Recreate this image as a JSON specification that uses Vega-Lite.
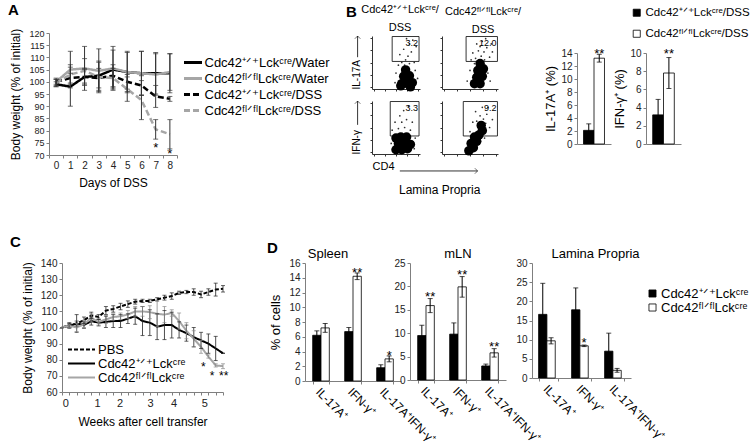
{
"$schema":"https://vega.github.io/schema/vega-lite/v6.json",
"padding":{"left":8,"top":3,"right":0,"bottom":0},
"background":"white",
"config":{"font":"Liberation Sans","view":{"stroke":null},
"axis":{"grid":false,"labelFont":"Liberation Sans","titleFont":"Liberation Sans","labelFontSize":10,"titleFontSize":12,"titleFontWeight":"normal","labelColor":"#222","titleColor":"#000","domainColor":"#7f7f7f","tickColor":"#7f7f7f","tickSize":3,"labelPadding":2,"labelOverlap":false},
"legend":{"labelFont":"Liberation Sans","labelFontSize":13,"labelColor":"#000","padding":0},
"title":{"font":"Liberation Sans","fontWeight":"normal","fontSize":13,"color":"#000"}},
"datasets":{
"a":[
{"day":0,"s":"Cdc42⁺ᐟ⁺Lckᶜʳᵉ/Water","m":99,"lo":98,"hi":100},
{"day":1,"s":"Cdc42⁺ᐟ⁺Lckᶜʳᵉ/Water","m":98,"lo":90,"hi":106},
{"day":2,"s":"Cdc42⁺ᐟ⁺Lckᶜʳᵉ/Water","m":102,"lo":98.5,"hi":105.5},
{"day":3,"s":"Cdc42⁺ᐟ⁺Lckᶜʳᵉ/Water","m":102.5,"lo":96.5,"hi":108.5},
{"day":4,"s":"Cdc42⁺ᐟ⁺Lckᶜʳᵉ/Water","m":105,"lo":97,"hi":113},
{"day":5,"s":"Cdc42⁺ᐟ⁺Lckᶜʳᵉ/Water","m":104,"lo":96,"hi":112},
{"day":6,"s":"Cdc42⁺ᐟ⁺Lckᶜʳᵉ/Water","m":103.5,"lo":94.5,"hi":112.5},
{"day":7,"s":"Cdc42⁺ᐟ⁺Lckᶜʳᵉ/Water","m":103.5,"lo":95,"hi":112},
{"day":8,"s":"Cdc42⁺ᐟ⁺Lckᶜʳᵉ/Water","m":103.5,"lo":95.5,"hi":111.5},
{"day":0,"s":"Cdc42ᶠˡᐟᶠˡLckᶜʳᵉ/Water","m":100,"lo":99,"hi":101},
{"day":1,"s":"Cdc42ᶠˡᐟᶠˡLckᶜʳᵉ/Water","m":105,"lo":97.5,"hi":112.5},
{"day":2,"s":"Cdc42ᶠˡᐟᶠˡLckᶜʳᵉ/Water","m":105.5,"lo":96.5,"hi":114.5},
{"day":3,"s":"Cdc42ᶠˡᐟᶠˡLckᶜʳᵉ/Water","m":104.5,"lo":95.5,"hi":113.5},
{"day":4,"s":"Cdc42ᶠˡᐟᶠˡLckᶜʳᵉ/Water","m":105.5,"lo":96.5,"hi":114.5},
{"day":5,"s":"Cdc42ᶠˡᐟᶠˡLckᶜʳᵉ/Water","m":104,"lo":95.5,"hi":112.5},
{"day":6,"s":"Cdc42ᶠˡᐟᶠˡLckᶜʳᵉ/Water","m":103.5,"lo":94.5,"hi":112.5},
{"day":7,"s":"Cdc42ᶠˡᐟᶠˡLckᶜʳᵉ/Water","m":103,"lo":94.5,"hi":111.5},
{"day":8,"s":"Cdc42ᶠˡᐟᶠˡLckᶜʳᵉ/Water","m":104,"lo":96.5,"hi":111.5},
{"day":0,"s":"Cdc42⁺ᐟ⁺Lckᶜʳᵉ/DSS","m":100,"lo":98.5,"hi":101.5},
{"day":1,"s":"Cdc42⁺ᐟ⁺Lckᶜʳᵉ/DSS","m":101.5,"lo":99.5,"hi":103.5},
{"day":2,"s":"Cdc42⁺ᐟ⁺Lckᶜʳᵉ/DSS","m":102,"lo":99,"hi":105},
{"day":3,"s":"Cdc42⁺ᐟ⁺Lckᶜʳᵉ/DSS","m":101.5,"lo":97.5,"hi":105.5},
{"day":4,"s":"Cdc42⁺ᐟ⁺Lckᶜʳᵉ/DSS","m":102.5,"lo":98,"hi":107},
{"day":5,"s":"Cdc42⁺ᐟ⁺Lckᶜʳᵉ/DSS","m":100,"lo":97,"hi":103},
{"day":6,"s":"Cdc42⁺ᐟ⁺Lckᶜʳᵉ/DSS","m":98.5,"lo":94.5,"hi":102.5},
{"day":7,"s":"Cdc42⁺ᐟ⁺Lckᶜʳᵉ/DSS","m":94,"lo":89.5,"hi":98.5},
{"day":8,"s":"Cdc42⁺ᐟ⁺Lckᶜʳᵉ/DSS","m":93,"lo":92,"hi":94},
{"day":0,"s":"Cdc42ᶠˡᐟᶠˡLckᶜʳᵉ/DSS","m":99.5,"lo":98,"hi":101},
{"day":1,"s":"Cdc42ᶠˡᐟᶠˡLckᶜʳᵉ/DSS","m":103,"lo":99,"hi":107},
{"day":2,"s":"Cdc42ᶠˡᐟᶠˡLckᶜʳᵉ/DSS","m":104.5,"lo":99.5,"hi":109.5},
{"day":3,"s":"Cdc42ᶠˡᐟᶠˡLckᶜʳᵉ/DSS","m":102,"lo":96,"hi":108},
{"day":4,"s":"Cdc42ᶠˡᐟᶠˡLckᶜʳᵉ/DSS","m":101.5,"lo":97.5,"hi":105.5},
{"day":5,"s":"Cdc42ᶠˡᐟᶠˡLckᶜʳᵉ/DSS","m":97,"lo":92,"hi":102},
{"day":6,"s":"Cdc42ᶠˡᐟᶠˡLckᶜʳᵉ/DSS","m":92.5,"lo":84.5,"hi":100.5},
{"day":7,"s":"Cdc42ᶠˡᐟᶠˡLckᶜʳᵉ/DSS","m":80.5,"lo":76.5,"hi":84.5},
{"day":8,"s":"Cdc42ᶠˡᐟᶠˡLckᶜʳᵉ/DSS","m":78.5,"lo":72.5,"hi":84.5}],
"astar":[{"day":7,"m":74,"t":"*"},{"day":8,"m":71.5,"t":"*"}],
"c":[
{"i":0,"s":"PBS","m":100,"lo":100,"hi":100},{"i":1,"s":"PBS","m":101.5,"lo":100,"hi":103},{"i":2,"s":"PBS","m":102.5,"lo":101,"hi":104},{"i":3,"s":"PBS","m":104.5,"lo":102.5,"hi":106.5},{"i":4,"s":"PBS","m":107.5,"lo":105.5,"hi":109.5},{"i":5,"s":"PBS","m":106.5,"lo":105,"hi":108},{"i":6,"s":"PBS","m":110.5,"lo":108,"hi":113},{"i":7,"s":"PBS","m":111.5,"lo":109.5,"hi":113.5},{"i":8,"s":"PBS","m":113,"lo":111,"hi":115},{"i":9,"s":"PBS","m":114.5,"lo":112.5,"hi":116.5},{"i":10,"s":"PBS","m":116,"lo":114.5,"hi":117.5},{"i":11,"s":"PBS","m":116.5,"lo":115.5,"hi":117.5},{"i":12,"s":"PBS","m":116.5,"lo":115.5,"hi":117.5},{"i":13,"s":"PBS","m":117.5,"lo":116.5,"hi":118.5},{"i":14,"s":"PBS","m":118.5,"lo":117,"hi":120},{"i":15,"s":"PBS","m":119.5,"lo":117.5,"hi":121.5},{"i":16,"s":"PBS","m":121.5,"lo":120.5,"hi":122.5},{"i":17,"s":"PBS","m":122,"lo":121,"hi":123},{"i":18,"s":"PBS","m":122,"lo":120,"hi":124},{"i":19,"s":"PBS","m":120.5,"lo":118.5,"hi":122.5},{"i":20,"s":"PBS","m":122,"lo":120,"hi":124},{"i":21,"s":"PBS","m":123.5,"lo":119.5,"hi":127.5},{"i":22,"s":"PBS","m":124,"lo":122,"hi":126},
{"i":0,"s":"Cdc42⁺ᐟ⁺Lckᶜʳᵉ","m":100,"lo":100,"hi":100},{"i":1,"s":"Cdc42⁺ᐟ⁺Lckᶜʳᵉ","m":101,"lo":99.5,"hi":102.5},{"i":2,"s":"Cdc42⁺ᐟ⁺Lckᶜʳᵉ","m":102.5,"lo":97,"hi":108},{"i":3,"s":"Cdc42⁺ᐟ⁺Lckᶜʳᵉ","m":101.5,"lo":99.5,"hi":103.5},{"i":4,"s":"Cdc42⁺ᐟ⁺Lckᶜʳᵉ","m":104,"lo":101.5,"hi":106.5},{"i":5,"s":"Cdc42⁺ᐟ⁺Lckᶜʳᵉ","m":103,"lo":101,"hi":105},{"i":6,"s":"Cdc42⁺ᐟ⁺Lckᶜʳᵉ","m":103.5,"lo":100,"hi":107},{"i":7,"s":"Cdc42⁺ᐟ⁺Lckᶜʳᵉ","m":104,"lo":100,"hi":108},{"i":8,"s":"Cdc42⁺ᐟ⁺Lckᶜʳᵉ","m":104,"lo":100,"hi":108},{"i":9,"s":"Cdc42⁺ᐟ⁺Lckᶜʳᵉ","m":105.5,"lo":102.5,"hi":108.5},{"i":10,"s":"Cdc42⁺ᐟ⁺Lckᶜʳᵉ","m":107,"lo":102,"hi":112},{"i":11,"s":"Cdc42⁺ᐟ⁺Lckᶜʳᵉ","m":104,"lo":95,"hi":113},{"i":12,"s":"Cdc42⁺ᐟ⁺Lckᶜʳᵉ","m":103,"lo":95,"hi":111},{"i":13,"s":"Cdc42⁺ᐟ⁺Lckᶜʳᵉ","m":100.5,"lo":92.5,"hi":108.5},{"i":14,"s":"Cdc42⁺ᐟ⁺Lckᶜʳᵉ","m":101.5,"lo":92.5,"hi":110.5},{"i":15,"s":"Cdc42⁺ᐟ⁺Lckᶜʳᵉ","m":101.5,"lo":93.5,"hi":109.5},{"i":16,"s":"Cdc42⁺ᐟ⁺Lckᶜʳᵉ","m":98.5,"lo":93.5,"hi":103.5},{"i":17,"s":"Cdc42⁺ᐟ⁺Lckᶜʳᵉ","m":96.5,"lo":91.5,"hi":101.5},{"i":18,"s":"Cdc42⁺ᐟ⁺Lckᶜʳᵉ","m":94,"lo":88,"hi":100},{"i":19,"s":"Cdc42⁺ᐟ⁺Lckᶜʳᵉ","m":92,"lo":87,"hi":97},{"i":20,"s":"Cdc42⁺ᐟ⁺Lckᶜʳᵉ","m":90,"lo":84,"hi":96},{"i":21,"s":"Cdc42⁺ᐟ⁺Lckᶜʳᵉ","m":87,"lo":79.5,"hi":94.5},{"i":22,"s":"Cdc42⁺ᐟ⁺Lckᶜʳᵉ","m":84,"lo":84,"hi":84},
{"i":0,"s":"Cdc42ᶠˡᐟᶠˡLckᶜʳᵉ","m":100,"lo":100,"hi":100},{"i":1,"s":"Cdc42ᶠˡᐟᶠˡLckᶜʳᵉ","m":101,"lo":100,"hi":102},{"i":2,"s":"Cdc42ᶠˡᐟᶠˡLckᶜʳᵉ","m":100,"lo":97.5,"hi":102.5},{"i":3,"s":"Cdc42ᶠˡᐟᶠˡLckᶜʳᵉ","m":102,"lo":100,"hi":104},{"i":4,"s":"Cdc42ᶠˡᐟᶠˡLckᶜʳᵉ","m":106,"lo":103.5,"hi":108.5},{"i":5,"s":"Cdc42ᶠˡᐟᶠˡLckᶜʳᵉ","m":103.5,"lo":101.5,"hi":105.5},{"i":6,"s":"Cdc42ᶠˡᐟᶠˡLckᶜʳᵉ","m":105,"lo":102.5,"hi":107.5},{"i":7,"s":"Cdc42ᶠˡᐟᶠˡLckᶜʳᵉ","m":106.5,"lo":104.5,"hi":108.5},{"i":8,"s":"Cdc42ᶠˡᐟᶠˡLckᶜʳᵉ","m":107,"lo":105,"hi":109},{"i":9,"s":"Cdc42ᶠˡᐟᶠˡLckᶜʳᵉ","m":108,"lo":105.5,"hi":110.5},{"i":10,"s":"Cdc42ᶠˡᐟᶠˡLckᶜʳᵉ","m":110,"lo":107,"hi":113},{"i":11,"s":"Cdc42ᶠˡᐟᶠˡLckᶜʳᵉ","m":110,"lo":107,"hi":113},{"i":12,"s":"Cdc42ᶠˡᐟᶠˡLckᶜʳᵉ","m":109.5,"lo":105.5,"hi":113.5},{"i":13,"s":"Cdc42ᶠˡᐟᶠˡLckᶜʳᵉ","m":108.5,"lo":100.5,"hi":116.5},{"i":14,"s":"Cdc42ᶠˡᐟᶠˡLckᶜʳᵉ","m":108,"lo":103,"hi":113},{"i":15,"s":"Cdc42ᶠˡᐟᶠˡLckᶜʳᵉ","m":109,"lo":107,"hi":111},{"i":16,"s":"Cdc42ᶠˡᐟᶠˡLckᶜʳᵉ","m":104,"lo":99,"hi":109},{"i":17,"s":"Cdc42ᶠˡᐟᶠˡLckᶜʳᵉ","m":98,"lo":93,"hi":103},{"i":18,"s":"Cdc42ᶠˡᐟᶠˡLckᶜʳᵉ","m":93,"lo":88,"hi":98},{"i":19,"s":"Cdc42ᶠˡᐟᶠˡLckᶜʳᵉ","m":88,"lo":84,"hi":92},{"i":20,"s":"Cdc42ᶠˡᐟᶠˡLckᶜʳᵉ","m":82,"lo":81,"hi":83},{"i":21,"s":"Cdc42ᶠˡᐟᶠˡLckᶜʳᵉ","m":76.5,"lo":75.5,"hi":77.5},{"i":22,"s":"Cdc42ᶠˡᐟᶠˡLckᶜʳᵉ","m":76,"lo":74.5,"hi":77.5}],
"cstar":[{"i":19.3,"m":77.5,"t":"*"},{"i":20.5,"m":72,"t":"*"},{"i":22.1,"m":72,"t":"**"}],
"f1":[{"x":0.62,"y":0.1,"k":"c"},{"x":0.74,"y":0.1,"k":"c"},{"x":0.84,"y":0.12,"k":"c"},{"x":0.66,"y":0.24,"k":"c"},{"x":0.78,"y":0.25,"k":"c"},{"x":0.7,"y":0.36,"k":"c"},{"x":0.6,"y":0.06,"k":"c"},{"x":0.8,"y":0.04,"k":"c"},
{"x":0.5,"y":0.3,"k":"d"},{"x":0.55,"y":0.45,"k":"d"},{"x":0.62,"y":0.5,"k":"d"},{"x":0.9,"y":0.35,"k":"d"},{"x":0.88,"y":0.5,"k":"d"},{"x":0.7,"y":0.55,"k":"d"},{"x":0.75,"y":0.62,"k":"d"},{"x":0.82,"y":0.7,"k":"d"},{"x":0.66,"y":0.75,"k":"d"},{"x":0.78,"y":0.85,"k":"d"},{"x":0.72,"y":0.95,"k":"d"},{"x":0.92,"y":0.8,"k":"d"},{"x":0.48,"y":0.12,"k":"d"},{"x":0.95,"y":0.2,"k":"d"},{"x":0.58,"y":0.65,"k":"d"},{"x":0.85,"y":0.92,"k":"d"},{"x":0.68,"y":0.45,"k":"d"},{"x":0.78,"y":0.48,"k":"d"}],
"f2":[{"x":0.58,"y":0.1,"k":"c"},{"x":0.68,"y":0.1,"k":"c"},{"x":0.62,"y":0.22,"k":"c"},{"x":0.72,"y":0.24,"k":"c"},{"x":0.64,"y":0.35,"k":"c"},{"x":0.74,"y":0.38,"k":"c"},{"x":0.68,"y":0.48,"k":"c"},
{"x":0.6,"y":0.58,"k":"d"},{"x":0.7,"y":0.62,"k":"d"},{"x":0.75,"y":0.7,"k":"d"},{"x":0.65,"y":0.72,"k":"d"},{"x":0.8,"y":0.78,"k":"d"},{"x":0.62,"y":0.85,"k":"d"},{"x":0.72,"y":0.9,"k":"d"},{"x":0.85,"y":0.6,"k":"d"},{"x":0.55,"y":0.68,"k":"d"},{"x":0.78,"y":0.95,"k":"d"},{"x":0.9,"y":0.7,"k":"d"},{"x":0.5,"y":0.35,"k":"d"},{"x":0.82,"y":0.3,"k":"d"},{"x":0.58,"y":0.48,"k":"d"},{"x":0.68,"y":0.8,"k":"d"},{"x":0.88,"y":0.85,"k":"d"},{"x":0.52,"y":0.55,"k":"d"},{"x":0.76,"y":0.55,"k":"d"},{"x":0.45,"y":0.15,"k":"d"},{"x":0.86,"y":0.15,"k":"d"}],
"f3":[{"x":0.5,"y":0.08,"k":"c"},{"x":0.62,"y":0.08,"k":"c"},{"x":0.74,"y":0.1,"k":"c"},{"x":0.55,"y":0.2,"k":"c"},{"x":0.68,"y":0.2,"k":"c"},{"x":0.8,"y":0.18,"k":"c"},{"x":0.6,"y":0.32,"k":"c"},{"x":0.72,"y":0.32,"k":"c"},{"x":0.5,"y":0.3,"k":"c"},
{"x":0.42,"y":0.45,"k":"d"},{"x":0.55,"y":0.48,"k":"d"},{"x":0.68,"y":0.5,"k":"d"},{"x":0.8,"y":0.45,"k":"d"},{"x":0.62,"y":0.6,"k":"d"},{"x":0.72,"y":0.65,"k":"d"},{"x":0.58,"y":0.72,"k":"d"},{"x":0.84,"y":0.6,"k":"d"},{"x":0.66,"y":0.82,"k":"d"},{"x":0.9,"y":0.3,"k":"d"},{"x":0.4,"y":0.2,"k":"d"},{"x":0.48,"y":0.6,"k":"d"},{"x":0.76,"y":0.9,"k":"d"},{"x":0.88,"y":0.1,"k":"d"}],
"f4":[{"x":0.48,"y":0.06,"k":"c"},{"x":0.56,"y":0.12,"k":"c"},{"x":0.52,"y":0.2,"k":"c"},{"x":0.62,"y":0.24,"k":"c"},{"x":0.66,"y":0.36,"k":"c"},{"x":0.72,"y":0.44,"k":"c"},{"x":0.58,"y":0.32,"k":"c"},{"x":0.7,"y":0.54,"k":"c"},
{"x":0.62,"y":0.62,"k":"d"},{"x":0.74,"y":0.66,"k":"d"},{"x":0.78,"y":0.58,"k":"d"},{"x":0.68,"y":0.72,"k":"d"},{"x":0.8,"y":0.75,"k":"d"},{"x":0.6,"y":0.8,"k":"d"},{"x":0.72,"y":0.88,"k":"d"},{"x":0.85,"y":0.5,"k":"d"},{"x":0.5,"y":0.42,"k":"d"},{"x":0.42,"y":0.1,"k":"d"},{"x":0.76,"y":0.3,"k":"d"},{"x":0.64,"y":0.5,"k":"d"},{"x":0.82,"y":0.88,"k":"d"},{"x":0.9,"y":0.65,"k":"d"},{"x":0.55,"y":0.6,"k":"d"}],
"gate":[{"p":"p1","x":0.42,"x2":0.98,"y":0.52,"y2":0.99},{"p":"p2","x":0.43,"x2":0.99,"y":0.52,"y2":0.99},{"p":"p3","x":0.38,"x2":0.98,"y":0.34,"y2":0.99},{"p":"p4","x":0.38,"x2":0.99,"y":0.34,"y2":0.99}],
"pct":[{"p":"p1","x":0.98,"y":0.99,"t":"3.2"},{"p":"p2","x":0.99,"y":0.99,"t":"12.0"},{"p":"p3","x":0.98,"y":0.99,"t":"3.3"},{"p":"p4","x":0.99,"y":0.99,"t":"9.2"}],
"arrow":[{"p":"p1","x":-0.3,"y":0.6,"x2":-0.3,"y2":1.0},{"p":"p3","x":-0.3,"y":0.55,"x2":-0.3,"y2":1.0},{"p":"p3","x":0.58,"y":-0.32,"x2":2.2,"y2":-0.32}],
"headup":[{"p":"p1","x":-0.3,"y":1.0},{"p":"p3","x":-0.3,"y":1.0}],
"headright":[{"p":"p3","x":2.2,"y":-0.32}],
"b1":[{"g":"Cdc42⁺ᐟ⁺Lckᶜʳᵉ/DSS","m":2.1,"lo":1.1,"hi":3.1},{"g":"Cdc42ᶠˡᐟᶠˡLckᶜʳᵉ/DSS","m":13.2,"lo":12.6,"hi":13.8}],
"b1s":[{"g":"Cdc42ᶠˡᐟᶠˡLckᶜʳᵉ/DSS","m":14.5,"t":"**"}],
"b2":[{"g":"Cdc42⁺ᐟ⁺Lckᶜʳᵉ/DSS","m":3.2,"lo":1.5,"hi":4.9},{"g":"Cdc42ᶠˡᐟᶠˡLckᶜʳᵉ/DSS","m":7.8,"lo":6.1,"hi":9.5}],
"b2s":[{"g":"Cdc42ᶠˡᐟᶠˡLckᶜʳᵉ/DSS","m":10.3,"t":"**"}],
"ds":[{"cat":"IL-17A⁺","g":"Cdc42⁺ᐟ⁺Lckᶜʳᵉ","m":6.2,"lo":5.6,"hi":6.8},{"cat":"IL-17A⁺","g":"Cdc42ᶠˡᐟᶠˡLckᶜʳᵉ","m":7.2,"lo":6.6,"hi":7.8},{"cat":"IFN-γ⁺","g":"Cdc42⁺ᐟ⁺Lckᶜʳᵉ","m":6.7,"lo":6.15,"hi":7.25},{"cat":"IFN-γ⁺","g":"Cdc42ᶠˡᐟᶠˡLckᶜʳᵉ","m":14.2,"lo":13.75,"hi":14.65},{"cat":"IL-17A⁺IFN-γ⁺","g":"Cdc42⁺ᐟ⁺Lckᶜʳᵉ","m":1.8,"lo":1.4,"hi":2.2},{"cat":"IL-17A⁺IFN-γ⁺","g":"Cdc42ᶠˡᐟᶠˡLckᶜʳᵉ","m":3.0,"lo":2.6,"hi":3.4}],
"dss":[{"cat":"IFN-γ⁺","g":"Cdc42ᶠˡᐟᶠˡLckᶜʳᵉ","m":15.2,"t":"**"},{"cat":"IL-17A⁺IFN-γ⁺","g":"Cdc42ᶠˡᐟᶠˡLckᶜʳᵉ","m":3.9,"t":"*"}],
"dm":[{"cat":"IL-17A⁺","g":"Cdc42⁺ᐟ⁺Lckᶜʳᵉ","m":9.5,"lo":7.3,"hi":11.7},{"cat":"IL-17A⁺","g":"Cdc42ᶠˡᐟᶠˡLckᶜʳᵉ","m":15.9,"lo":14.4,"hi":17.4},{"cat":"IFN-γ⁺","g":"Cdc42⁺ᐟ⁺Lckᶜʳᵉ","m":9.8,"lo":7.4,"hi":12.2},{"cat":"IFN-γ⁺","g":"Cdc42ᶠˡᐟᶠˡLckᶜʳᵉ","m":19.9,"lo":17.7,"hi":22.1},{"cat":"IL-17A⁺IFN-γ⁺","g":"Cdc42⁺ᐟ⁺Lckᶜʳᵉ","m":3.0,"lo":2.6,"hi":3.4},{"cat":"IL-17A⁺IFN-γ⁺","g":"Cdc42ᶠˡᐟᶠˡLckᶜʳᵉ","m":5.8,"lo":4.9,"hi":6.7}],
"dms":[{"cat":"IL-17A⁺","g":"Cdc42ᶠˡᐟᶠˡLckᶜʳᵉ","m":18.6,"t":"**"},{"cat":"IFN-γ⁺","g":"Cdc42ᶠˡᐟᶠˡLckᶜʳᵉ","m":23.3,"t":"**"},{"cat":"IL-17A⁺IFN-γ⁺","g":"Cdc42ᶠˡᐟᶠˡLckᶜʳᵉ","m":7.8,"t":"**"}],
"dl":[{"cat":"IL-17A⁺","g":"Cdc42⁺ᐟ⁺Lckᶜʳᵉ","m":16.6,"lo":8.5,"hi":24.7},{"cat":"IL-17A⁺","g":"Cdc42ᶠˡᐟᶠˡLckᶜʳᵉ","m":9.7,"lo":8.9,"hi":10.5},{"cat":"IFN-γ⁺","g":"Cdc42⁺ᐟ⁺Lckᶜʳᵉ","m":17.8,"lo":12.1,"hi":23.5},{"cat":"IFN-γ⁺","g":"Cdc42ᶠˡᐟᶠˡLckᶜʳᵉ","m":8.4,"lo":8.2,"hi":8.6},{"cat":"IL-17A⁺IFN-γ⁺","g":"Cdc42⁺ᐟ⁺Lckᶜʳᵉ","m":7.0,"lo":2.3,"hi":11.7},{"cat":"IL-17A⁺IFN-γ⁺","g":"Cdc42ᶠˡᐟᶠˡLckᶜʳᵉ","m":2.0,"lo":1.5,"hi":2.5}],
"dls":[{"cat":"IFN-γ⁺","g":"Cdc42ᶠˡᐟᶠˡLckᶜʳᵉ","m":10.3,"t":"*"}]
},
"bounds":"flush","spacing":230,
"resolve":{"scale":{"color":"independent","strokeDash":"independent","fill":"independent"},"legend":{"color":"independent","strokeDash":"independent","fill":"independent"}},
"vconcat":[
{"bounds":"flush","spacing":195,
"resolve":{"scale":{"color":"independent","strokeDash":"independent","fill":"independent"},"legend":{"color":"independent","strokeDash":"independent","fill":"independent"}},
"hconcat":[
{"width":128,"height":122,
"title":{"text":"A","anchor":"start","frame":"group","dx":-41,"offset":10,"fontSize":15,"fontWeight":"bold"},
"data":{"name":"a"},
"encoding":{"x":{"field":"day","type":"quantitative","title":"Days of DSS","scale":{"domain":[-0.5,8.5],"nice":false,"zero":false},
"axis":{"values":[-0.5,0,0.5,1,1.5,2,2.5,3,3.5,4,4.5,5,5.5,6,6.5,7,7.5,8,8.5],"tickCount":100,"labelExpr":"datum.value % 1 === 0 ? '' + datum.value : ''","labelOverlap":false,"tickOpacity":{"condition":{"test":"datum.value % 1 === 0","value":0},"value":1},"labelFontSize":10,"titlePadding":7}}},
"layer":[
{"mark":{"type":"line","strokeWidth":2.5},
"encoding":{"y":{"field":"m","type":"quantitative","title":"Body weight (% of initial)","scale":{"domain":[70,120],"nice":false,"zero":false},"axis":{"values":[70,75,80,85,90,95,100,105,110,115,120],"tickCount":100,"format":"d","labelOverlap":false,"labelFontSize":9,"titlePadding":6}},
"color":{"field":"s","type":"nominal","scale":{"domain":["Cdc42⁺ᐟ⁺Lckᶜʳᵉ/Water","Cdc42ᶠˡᐟᶠˡLckᶜʳᵉ/Water","Cdc42⁺ᐟ⁺Lckᶜʳᵉ/DSS","Cdc42ᶠˡᐟᶠˡLckᶜʳᵉ/DSS"],"range":["#000000","#a6a6a6","#000000","#a6a6a6"]},
"legend":{"title":null,"orient":"none","legendX":137.5,"legendY":23,"symbolType":"M-2,0H2","symbolSize":81,"symbolStrokeWidth":3,"labelFontSize":13,"rowPadding":2,"labelOffset":5}},
"strokeDash":{"field":"s","type":"nominal","scale":{"domain":["Cdc42⁺ᐟ⁺Lckᶜʳᵉ/Water","Cdc42ᶠˡᐟᶠˡLckᶜʳᵉ/Water","Cdc42⁺ᐟ⁺Lckᶜʳᵉ/DSS","Cdc42ᶠˡᐟᶠˡLckᶜʳᵉ/DSS"],"range":[[1,0],[1,0],[6,3],[6,3]]},
"legend":{"title":null,"orient":"none","legendX":137.5,"legendY":23,"symbolType":"M-2,0H2","symbolSize":81,"symbolStrokeWidth":3,"labelFontSize":13,"rowPadding":2,"labelOffset":5}}}},
{"mark":{"type":"rule","color":"#333","strokeWidth":1},"encoding":{"y":{"field":"lo","type":"quantitative","title":"Body weight (% of initial)","scale":{"domain":[70,120],"nice":false,"zero":false}},"y2":{"field":"hi"}}},
{"mark":{"type":"tick","orient":"horizontal","color":"#333","size":5,"thickness":1},"encoding":{"y":{"field":"lo","type":"quantitative","title":"Body weight (% of initial)","scale":{"domain":[70,120],"nice":false,"zero":false}}}},
{"mark":{"type":"tick","orient":"horizontal","color":"#333","size":5,"thickness":1},"encoding":{"y":{"field":"hi","type":"quantitative","title":"Body weight (% of initial)","scale":{"domain":[70,120],"nice":false,"zero":false}}}},
{"data":{"name":"astar"},"mark":{"type":"text","fontSize":13,"baseline":"middle","dy":3},"encoding":{"y":{"field":"m","type":"quantitative","title":"Body weight (% of initial)","scale":{"domain":[70,120],"nice":false,"zero":false}},"text":{"field":"t"}}}
]},
{"bounds":"flush","spacing":205,
"resolve":{"scale":{"color":"independent","strokeDash":"independent","fill":"independent"},"legend":{"color":"independent","strokeDash":"independent","fill":"independent"}},
"hconcat":[
{"bounds":"flush","spacing":0,
"title":{"text":"B","anchor":"start","frame":"group","dx":-26,"dy":20,"fontSize":15,"fontWeight":"bold"},
"vconcat":[
{"data":{"values":[{}]},"mark":{"type":"text","text":""},"width":20,"height":3},
{"bounds":"flush","spacing":65,
"vconcat":[
{"bounds":"flush","spacing":22,
"hconcat":[
{"width":48,"height":53,
"title":{"text":["Cdc42⁺ᐟ⁺Lckᶜʳᵉ/","DSS"],"fontSize":11,"offset":1,"lineHeight":18,"dx":4},
"encoding":{"x":{"field":"x","type":"quantitative","title":null,"scale":{"domain":[0,1],"nice":false,"zero":false},"axis":{"values":[0.04,0.27,0.5,0.73,0.96],"tickCount":100,"labels":false,"tickSize":2,"domainColor":"#333","tickColor":"#333"}},
"y":{"field":"y","type":"quantitative","title":"IL-17A","scale":{"domain":[0,1],"nice":false,"zero":false},"axis":{"values":[0.04,0.27,0.5,0.73,0.96],"tickCount":100,"labels":false,"tickSize":2,"domainColor":"#333","tickColor":"#333","titleAnchor":"start","titleFontSize":10,"titlePadding":8}}},
"layer":[
{"data":{"name":"f1"},"transform":[{"filter":"datum.k == 'c'"}],"mark":{"type":"circle","size":90,"color":"#000","opacity":1}},
{"data":{"name":"f1"},"transform":[{"filter":"datum.k == 'd'"}],"mark":{"type":"circle","size":3,"color":"#000","opacity":0.8}},
{"data":{"name":"gate"},"transform":[{"filter":"datum.p == 'p1'"}],"mark":{"type":"rect","filled":false,"color":"#000","strokeWidth":0.8},"encoding":{"x2":{"field":"x2"},"y2":{"field":"y2"}}},
{"data":{"name":"pct"},"transform":[{"filter":"datum.p == 'p1'"}],"mark":{"type":"text","align":"right","baseline":"top","fontSize":9,"dx":-1,"dy":2},"encoding":{"text":{"field":"t"}}},
{"data":{"name":"arrow"},"transform":[{"filter":"datum.p == 'p1'"}],"mark":{"type":"rule","color":"#000","strokeWidth":0.8},"encoding":{"x2":{"field":"x2"},"y2":{"field":"y2"}}},
{"data":{"name":"headup"},"transform":[{"filter":"datum.p == 'p1'"}],"mark":{"type":"point","shape":"M-1,1L0,0L1,1","filled":false,"size":30,"color":"#000","strokeWidth":0.8}}
]},
{"width":56,"height":53,
"title":{"text":["Cdc42ᶠˡᐟᶠˡLckᶜʳᵉ/","DSS"],"fontSize":11,"offset":1,"lineHeight":18,"dx":13},
"encoding":{"x":{"field":"x","type":"quantitative","title":null,"scale":{"domain":[0,1],"nice":false,"zero":false},"axis":{"values":[0.04,0.27,0.5,0.73,0.96],"tickCount":100,"labels":false,"tickSize":2,"domainColor":"#333","tickColor":"#333"}},
"y":{"field":"y","type":"quantitative","title":null,"scale":{"domain":[0,1],"nice":false,"zero":false},"axis":{"values":[0.04,0.27,0.5,0.73,0.96],"tickCount":100,"labels":false,"tickSize":2,"domainColor":"#333","tickColor":"#333"}}},
"layer":[
{"data":{"name":"f2"},"transform":[{"filter":"datum.k == 'c'"}],"mark":{"type":"circle","size":90,"color":"#000","opacity":1}},
{"data":{"name":"f2"},"transform":[{"filter":"datum.k == 'd'"}],"mark":{"type":"circle","size":3,"color":"#000","opacity":0.8}},
{"data":{"name":"gate"},"transform":[{"filter":"datum.p == 'p2'"}],"mark":{"type":"rect","filled":false,"color":"#000","strokeWidth":0.8},"encoding":{"x2":{"field":"x2"},"y2":{"field":"y2"}}},
{"data":{"name":"pct"},"transform":[{"filter":"datum.p == 'p2'"}],"mark":{"type":"text","align":"right","baseline":"top","fontSize":9,"dx":-1,"dy":2},"encoding":{"text":{"field":"t"}}}
]}
]},
{"bounds":"flush","spacing":22,
"title":{"text":"Lamina Propria","orient":"bottom","anchor":"start","frame":"group","dx":27,"fontSize":12,"offset":10},
"hconcat":[
{"width":48,"height":53,
"encoding":{"x":{"field":"x","type":"quantitative","title":"CD4","scale":{"domain":[0,1],"nice":false,"zero":false},"axis":{"values":[0.04,0.27,0.5,0.73,0.96],"tickCount":100,"labels":false,"tickSize":2,"domainColor":"#333","tickColor":"#333","titleAnchor":"start","titleFontSize":11,"titlePadding":4}},
"y":{"field":"y","type":"quantitative","title":"IFN-γ","scale":{"domain":[0,1],"nice":false,"zero":false},"axis":{"values":[0.04,0.27,0.5,0.73,0.96],"tickCount":100,"labels":false,"tickSize":2,"domainColor":"#333","tickColor":"#333","titleAnchor":"start","titleFontSize":10,"titlePadding":8}}},
"layer":[
{"data":{"name":"f3"},"transform":[{"filter":"datum.k == 'c'"}],"mark":{"type":"circle","size":90,"color":"#000","opacity":1}},
{"data":{"name":"f3"},"transform":[{"filter":"datum.k == 'd'"}],"mark":{"type":"circle","size":3,"color":"#000","opacity":0.8}},
{"data":{"name":"gate"},"transform":[{"filter":"datum.p == 'p3'"}],"mark":{"type":"rect","filled":false,"color":"#000","strokeWidth":0.8},"encoding":{"x2":{"field":"x2"},"y2":{"field":"y2"}}},
{"data":{"name":"pct"},"transform":[{"filter":"datum.p == 'p3'"}],"mark":{"type":"text","align":"right","baseline":"top","fontSize":9,"dx":-1,"dy":2},"encoding":{"text":{"field":"t"}}},
{"data":{"name":"arrow"},"transform":[{"filter":"datum.p == 'p3'"}],"mark":{"type":"rule","color":"#000","strokeWidth":0.8},"encoding":{"x2":{"field":"x2"},"y2":{"field":"y2"}}},
{"data":{"name":"headup"},"transform":[{"filter":"datum.p == 'p3'"}],"mark":{"type":"point","shape":"M-1,1L0,0L1,1","filled":false,"size":30,"color":"#000","strokeWidth":0.8}},
{"data":{"name":"headright"},"transform":[{"filter":"datum.p == 'p3'"}],"mark":{"type":"point","shape":"M-1,-1L0,0L-1,1","filled":false,"size":30,"color":"#000","strokeWidth":0.8}}
]},
{"width":56,"height":53,
"encoding":{"x":{"field":"x","type":"quantitative","title":null,"scale":{"domain":[0,1],"nice":false,"zero":false},"axis":{"values":[0.04,0.27,0.5,0.73,0.96],"tickCount":100,"labels":false,"tickSize":2,"domainColor":"#333","tickColor":"#333"}},
"y":{"field":"y","type":"quantitative","title":null,"scale":{"domain":[0,1],"nice":false,"zero":false},"axis":{"values":[0.04,0.27,0.5,0.73,0.96],"tickCount":100,"labels":false,"tickSize":2,"domainColor":"#333","tickColor":"#333"}}},
"layer":[
{"data":{"name":"f4"},"transform":[{"filter":"datum.k == 'c'"}],"mark":{"type":"circle","size":90,"color":"#000","opacity":1}},
{"data":{"name":"f4"},"transform":[{"filter":"datum.k == 'd'"}],"mark":{"type":"circle","size":3,"color":"#000","opacity":0.8}},
{"data":{"name":"gate"},"transform":[{"filter":"datum.p == 'p4'"}],"mark":{"type":"rect","filled":false,"color":"#000","strokeWidth":0.8},"encoding":{"x2":{"field":"x2"},"y2":{"field":"y2"}}},
{"data":{"name":"pct"},"transform":[{"filter":"datum.p == 'p4'"}],"mark":{"type":"text","align":"right","baseline":"top","fontSize":9,"dx":-1,"dy":2},"encoding":{"text":{"field":"t"}}}
]}
]}
]}
]},
{"bounds":"flush","spacing":69,
"resolve":{"scale":{"color":"independent","strokeDash":"independent","fill":"independent"},"legend":{"color":"independent","strokeDash":"independent","fill":"independent"}},
"hconcat":[
{"bounds":"flush","spacing":0,
"vconcat":[
{"data":{"values":[{}]},"mark":{"type":"text","text":""},"width":20,"height":20},
{"width":34,"height":91,
"encoding":{"x":{"field":"g","type":"nominal","title":null,"scale":{"domain":["Cdc42⁺ᐟ⁺Lckᶜʳᵉ/DSS","Cdc42ᶠˡᐟᶠˡLckᶜʳᵉ/DSS"],"paddingInner":0,"paddingOuter":0.62},"axis":{"labels":false,"ticks":false}}},
"layer":[
{"data":{"name":"b1"},"mark":{"type":"bar","stroke":"#000","strokeWidth":0.8},"encoding":{"y":{"field":"m","type":"quantitative","title":"IL-17A⁺ (%)","scale":{"domain":[0,14],"nice":false},"axis":{"values":[0,2,4,6,8,10,12,14],"tickCount":100,"format":"d","labelOverlap":false,"titleFontSize":13,"titlePadding":3}},"fill":{"field":"g","type":"nominal","scale":{"domain":["Cdc42⁺ᐟ⁺Lckᶜʳᵉ/DSS","Cdc42ᶠˡᐟᶠˡLckᶜʳᵉ/DSS"],"range":["#000000","#ffffff"]},"legend":null}}},
{"data":{"name":"b1"},"mark":{"type":"rule","color":"#000","strokeWidth":1},"encoding":{"y":{"field":"lo","type":"quantitative","title":"IL-17A⁺ (%)","scale":{"domain":[0,14],"nice":false}},"y2":{"field":"hi"}}},
{"data":{"name":"b1"},"mark":{"type":"tick","orient":"horizontal","color":"#000","size":5,"thickness":1},"encoding":{"y":{"field":"lo","type":"quantitative","title":"IL-17A⁺ (%)","scale":{"domain":[0,14],"nice":false}}}},
{"data":{"name":"b1"},"mark":{"type":"tick","orient":"horizontal","color":"#000","size":5,"thickness":1},"encoding":{"y":{"field":"hi","type":"quantitative","title":"IL-17A⁺ (%)","scale":{"domain":[0,14],"nice":false}}}},
{"data":{"name":"b1s"},"mark":{"type":"text","fontSize":13,"baseline":"middle","dy":4},"encoding":{"y":{"field":"m","type":"quantitative","title":"IL-17A⁺ (%)","scale":{"domain":[0,14],"nice":false}},"text":{"field":"t"}}}
]}
]},
{"bounds":"flush","spacing":0,
"vconcat":[
{"data":{"values":[{}]},"mark":{"type":"text","text":""},"width":20,"height":20},
{"width":35,"height":91,
"encoding":{"x":{"field":"g","type":"nominal","title":null,"scale":{"domain":["Cdc42⁺ᐟ⁺Lckᶜʳᵉ/DSS","Cdc42ᶠˡᐟᶠˡLckᶜʳᵉ/DSS"],"paddingInner":0,"paddingOuter":0.62},"axis":{"labels":false,"ticks":false}}},
"layer":[
{"data":{"name":"b2"},"mark":{"type":"bar","stroke":"#000","strokeWidth":0.8},"encoding":{"y":{"field":"m","type":"quantitative","title":"IFN-γ⁺ (%)","scale":{"domain":[0,10],"nice":false},"axis":{"values":[0,2,4,6,8,10],"tickCount":100,"format":"d","labelOverlap":false,"titleFontSize":13,"titlePadding":3}},"fill":{"field":"g","type":"nominal","scale":{"domain":["Cdc42⁺ᐟ⁺Lckᶜʳᵉ/DSS","Cdc42ᶠˡᐟᶠˡLckᶜʳᵉ/DSS"],"range":["#000000","#ffffff"]},"legend":{"title":null,"orient":"none","legendX":-15,"legendY":-26,"symbolType":"square","symbolSize":50,"symbolStrokeColor":"#000","symbolStrokeWidth":0.8,"labelFontSize":11.5,"rowPadding":8,"labelOffset":3}}}},
{"data":{"name":"b2"},"mark":{"type":"rule","color":"#000","strokeWidth":1},"encoding":{"y":{"field":"lo","type":"quantitative","title":"IFN-γ⁺ (%)","scale":{"domain":[0,10],"nice":false}},"y2":{"field":"hi"}}},
{"data":{"name":"b2"},"mark":{"type":"tick","orient":"horizontal","color":"#000","size":5,"thickness":1},"encoding":{"y":{"field":"lo","type":"quantitative","title":"IFN-γ⁺ (%)","scale":{"domain":[0,10],"nice":false}}}},
{"data":{"name":"b2"},"mark":{"type":"tick","orient":"horizontal","color":"#000","size":5,"thickness":1},"encoding":{"y":{"field":"hi","type":"quantitative","title":"IFN-γ⁺ (%)","scale":{"domain":[0,10],"nice":false}}}},
{"data":{"name":"b2s"},"mark":{"type":"text","fontSize":13,"baseline":"middle","dy":4},"encoding":{"y":{"field":"m","type":"quantitative","title":"IFN-γ⁺ (%)","scale":{"domain":[0,10],"nice":false}},"text":{"field":"t"}}}
]}
]}
]}
]}
]},
{"bounds":"flush","spacing":0,
"resolve":{"scale":{"color":"independent","strokeDash":"independent","fill":"independent"},"legend":{"color":"independent","strokeDash":"independent","fill":"independent"}},
"hconcat":[
{"data":{"values":[{}]},"mark":{"type":"text","text":""},"width":13,"height":1},
{"bounds":"flush","spacing":82,
"resolve":{"scale":{"color":"independent","strokeDash":"independent","fill":"independent"},"legend":{"color":"independent","strokeDash":"independent","fill":"independent"}},
"hconcat":[
{"width":161,"height":129,
"title":{"text":"C","anchor":"start","frame":"group","dx":-52,"offset":8,"fontSize":15,"fontWeight":"bold"},
"encoding":{"x":{"field":"i","type":"quantitative","title":"Weeks after cell transfer","scale":{"domain":[0,22],"nice":false,"zero":false},
"axis":{"values":[0,0.45,1,2,3,4,4.8,5,6,7,7.85,8,9,10,11,12,12.05,13,14,15,15.25,16,17,18,19,19.45,20,21,22],"tickCount":100,
"labelExpr":"datum.value == 0.45 ? '0' : datum.value == 4.8 ? '1' : datum.value == 7.85 ? '2' : datum.value == 12.05 ? '3' : datum.value == 15.25 ? '4' : datum.value == 19.45 ? '5' : ''",
"labelOverlap":false,"tickOpacity":{"condition":{"test":"datum.value % 1 === 0","value":1},"value":0},"labelFontSize":11,"titlePadding":8}}},
"layer":[
{"data":{"name":"c"},"mark":{"type":"line","strokeWidth":2},
"encoding":{"y":{"field":"m","type":"quantitative","title":"Body weight (% of initial)","scale":{"domain":[60,140],"nice":false,"zero":false},"axis":{"values":[60,70,80,90,100,110,120,130,140],"tickCount":100,"format":"d","labelOverlap":false,"labelFontSize":10,"titlePadding":6}},
"color":{"field":"s","type":"nominal","scale":{"domain":["PBS","Cdc42⁺ᐟ⁺Lckᶜʳᵉ","Cdc42ᶠˡᐟᶠˡLckᶜʳᵉ"],"range":["#000000","#000000","#a6a6a6"]},
"legend":{"title":null,"orient":"none","legendX":13,"legendY":80,"symbolType":"M-3,0H3","symbolSize":81,"symbolStrokeWidth":2,"labelFontSize":13,"rowPadding":0,"labelOffset":10}},
"strokeDash":{"field":"s","type":"nominal","scale":{"domain":["PBS","Cdc42⁺ᐟ⁺Lckᶜʳᵉ","Cdc42ᶠˡᐟᶠˡLckᶜʳᵉ"],"range":[[4,2],[1,0],[1,0]]},
"legend":{"title":null,"orient":"none","legendX":13,"legendY":80,"symbolType":"M-3,0H3","symbolSize":81,"symbolStrokeWidth":2,"labelFontSize":13,"rowPadding":0,"labelOffset":10}}}},
{"data":{"name":"c"},"mark":{"type":"rule","strokeWidth":0.8},"encoding":{"y":{"field":"lo","type":"quantitative","title":"Body weight (% of initial)","scale":{"domain":[60,140],"nice":false,"zero":false}},"y2":{"field":"hi"},"color":{"condition":{"test":"datum.s == 'Cdc42ᶠˡᐟᶠˡLckᶜʳᵉ'","value":"#8c8c8c"},"value":"#222222"}}},
{"data":{"name":"c"},"mark":{"type":"tick","orient":"horizontal","size":4,"thickness":1},"encoding":{"y":{"field":"lo","type":"quantitative","title":"Body weight (% of initial)","scale":{"domain":[60,140],"nice":false,"zero":false}},"color":{"condition":{"test":"datum.s == 'Cdc42ᶠˡᐟᶠˡLckᶜʳᵉ'","value":"#8c8c8c"},"value":"#222222"}}},
{"data":{"name":"c"},"mark":{"type":"tick","orient":"horizontal","size":4,"thickness":1},"encoding":{"y":{"field":"hi","type":"quantitative","title":"Body weight (% of initial)","scale":{"domain":[60,140],"nice":false,"zero":false}},"color":{"condition":{"test":"datum.s == 'Cdc42ᶠˡᐟᶠˡLckᶜʳᵉ'","value":"#8c8c8c"},"value":"#222222"}}},
{"data":{"name":"cstar"},"mark":{"type":"text","fontSize":12,"baseline":"middle","dy":3},"encoding":{"y":{"field":"m","type":"quantitative","title":"Body weight (% of initial)","scale":{"domain":[60,140],"nice":false,"zero":false}},"text":{"field":"t"}}}
]},
{"bounds":"flush","spacing":227,
"title":{"text":"D","anchor":"start","frame":"group","dx":-38,"dy":12,"fontSize":15,"fontWeight":"bold"},
"resolve":{"scale":{"color":"independent","strokeDash":"independent","fill":"independent"},"legend":{"color":"independent","strokeDash":"independent","fill":"independent"}},
"hconcat":[
{"bounds":"flush","spacing":9,
"resolve":{"scale":{"color":"independent","strokeDash":"independent","fill":"independent"},"legend":{"color":"independent","strokeDash":"independent","fill":"independent"}},
"hconcat":[
{"width":96,"height":118,
"title":{"text":"Spleen","dx":-25,"offset":-3},
"encoding":{"x":{"field":"cat","type":"nominal","title":null,"sort":["IL-17A⁺","IFN-γ⁺","IL-17A⁺IFN-γ⁺"],"scale":{"paddingInner":0.48,"paddingOuter":0.24},"axis":{"labelAngle":45,"labelFontSize":12,"labelColor":"#000","tickBand":"extent","tickSize":3}},
"xOffset":{"field":"g","type":"nominal","sort":["Cdc42⁺ᐟ⁺Lckᶜʳᵉ","Cdc42ᶠˡᐟᶠˡLckᶜʳᵉ"]}},
"layer":[
{"data":{"name":"ds"},"mark":{"type":"bar","stroke":"#000","strokeWidth":0.8},"encoding":{"y":{"field":"m","type":"quantitative","title":"% of cells","scale":{"domain":[0,16],"nice":false},"axis":{"values":[0,2,4,6,8,10,12,14,16],"tickCount":100,"format":"d","labelOverlap":false,"titleFontSize":13,"titlePadding":6}},"fill":{"field":"g","type":"nominal","scale":{"domain":["Cdc42⁺ᐟ⁺Lckᶜʳᵉ","Cdc42ᶠˡᐟᶠˡLckᶜʳᵉ"],"range":["#000000","#ffffff"]},"legend":null}}},
{"data":{"name":"ds"},"mark":{"type":"rule","color":"#000","strokeWidth":1},"encoding":{"y":{"field":"lo","type":"quantitative","title":"% of cells","scale":{"domain":[0,16],"nice":false}},"y2":{"field":"hi"}}},
{"data":{"name":"ds"},"mark":{"type":"tick","orient":"horizontal","color":"#000","size":5,"thickness":1},"encoding":{"y":{"field":"lo","type":"quantitative","title":"% of cells","scale":{"domain":[0,16],"nice":false}}}},
{"data":{"name":"ds"},"mark":{"type":"tick","orient":"horizontal","color":"#000","size":5,"thickness":1},"encoding":{"y":{"field":"hi","type":"quantitative","title":"% of cells","scale":{"domain":[0,16],"nice":false}}}},
{"data":{"name":"dss"},"mark":{"type":"text","fontSize":13,"baseline":"middle","dy":4},"encoding":{"y":{"field":"m","type":"quantitative","title":"% of cells","scale":{"domain":[0,16],"nice":false}},"text":{"field":"t"}}}
]},
{"width":96,"height":117,
"title":{"text":"mLN","offset":-3},
"encoding":{"x":{"field":"cat","type":"nominal","title":null,"sort":["IL-17A⁺","IFN-γ⁺","IL-17A⁺IFN-γ⁺"],"scale":{"paddingInner":0.48,"paddingOuter":0.24},"axis":{"labelAngle":45,"labelFontSize":12,"labelColor":"#000","tickBand":"extent","tickSize":3}},
"xOffset":{"field":"g","type":"nominal","sort":["Cdc42⁺ᐟ⁺Lckᶜʳᵉ","Cdc42ᶠˡᐟᶠˡLckᶜʳᵉ"]}},
"layer":[
{"data":{"name":"dm"},"mark":{"type":"bar","stroke":"#000","strokeWidth":0.8},"encoding":{"y":{"field":"m","type":"quantitative","title":null,"scale":{"domain":[0,25],"nice":false},"axis":{"values":[0,5,10,15,20,25],"tickCount":100,"format":"d","labelOverlap":false}},"fill":{"field":"g","type":"nominal","scale":{"domain":["Cdc42⁺ᐟ⁺Lckᶜʳᵉ","Cdc42ᶠˡᐟᶠˡLckᶜʳᵉ"],"range":["#000000","#ffffff"]},"legend":null}}},
{"data":{"name":"dm"},"mark":{"type":"rule","color":"#000","strokeWidth":1},"encoding":{"y":{"field":"lo","type":"quantitative","title":null,"scale":{"domain":[0,25],"nice":false}},"y2":{"field":"hi"}}},
{"data":{"name":"dm"},"mark":{"type":"tick","orient":"horizontal","color":"#000","size":5,"thickness":1},"encoding":{"y":{"field":"lo","type":"quantitative","title":null,"scale":{"domain":[0,25],"nice":false}}}},
{"data":{"name":"dm"},"mark":{"type":"tick","orient":"horizontal","color":"#000","size":5,"thickness":1},"encoding":{"y":{"field":"hi","type":"quantitative","title":null,"scale":{"domain":[0,25],"nice":false}}}},
{"data":{"name":"dms"},"mark":{"type":"text","fontSize":13,"baseline":"middle","dy":4},"encoding":{"y":{"field":"m","type":"quantitative","title":null,"scale":{"domain":[0,25],"nice":false}},"text":{"field":"t"}}}
]}
]},
{"width":99,"height":115,
"title":{"text":"Lamina Propria","dx":14,"offset":-3},
"encoding":{"x":{"field":"cat","type":"nominal","title":null,"sort":["IL-17A⁺","IFN-γ⁺","IL-17A⁺IFN-γ⁺"],"scale":{"paddingInner":0.4,"paddingOuter":0.2},"axis":{"labelAngle":45,"labelFontSize":12,"labelColor":"#000","tickBand":"extent","tickSize":3}},
"xOffset":{"field":"g","type":"nominal","sort":["Cdc42⁺ᐟ⁺Lckᶜʳᵉ","Cdc42ᶠˡᐟᶠˡLckᶜʳᵉ"]}},
"layer":[
{"data":{"name":"dl"},"mark":{"type":"bar","stroke":"#000","strokeWidth":0.8},"encoding":{"y":{"field":"m","type":"quantitative","title":null,"scale":{"domain":[0,30],"nice":false},"axis":{"values":[0,5,10,15,20,25,30],"tickCount":100,"format":"d","labelOverlap":false}},"fill":{"field":"g","type":"nominal","scale":{"domain":["Cdc42⁺ᐟ⁺Lckᶜʳᵉ","Cdc42ᶠˡᐟᶠˡLckᶜʳᵉ"],"range":["#000000","#ffffff"]},"legend":{"title":null,"orient":"none","legendX":114,"legendY":24,"symbolType":"square","symbolSize":50,"symbolStrokeColor":"#000","symbolStrokeWidth":0.8,"labelFontSize":13,"rowPadding":0,"labelOffset":2}}}},
{"data":{"name":"dl"},"mark":{"type":"rule","color":"#000","strokeWidth":1},"encoding":{"y":{"field":"lo","type":"quantitative","title":null,"scale":{"domain":[0,30],"nice":false}},"y2":{"field":"hi"}}},
{"data":{"name":"dl"},"mark":{"type":"tick","orient":"horizontal","color":"#000","size":5,"thickness":1},"encoding":{"y":{"field":"lo","type":"quantitative","title":null,"scale":{"domain":[0,30],"nice":false}}}},
{"data":{"name":"dl"},"mark":{"type":"tick","orient":"horizontal","color":"#000","size":5,"thickness":1},"encoding":{"y":{"field":"hi","type":"quantitative","title":null,"scale":{"domain":[0,30],"nice":false}}}},
{"data":{"name":"dls"},"mark":{"type":"text","fontSize":13,"baseline":"middle","dy":4},"encoding":{"y":{"field":"m","type":"quantitative","title":null,"scale":{"domain":[0,30],"nice":false}},"text":{"field":"t"}}}
]}
]}
]}
]}
]
}
